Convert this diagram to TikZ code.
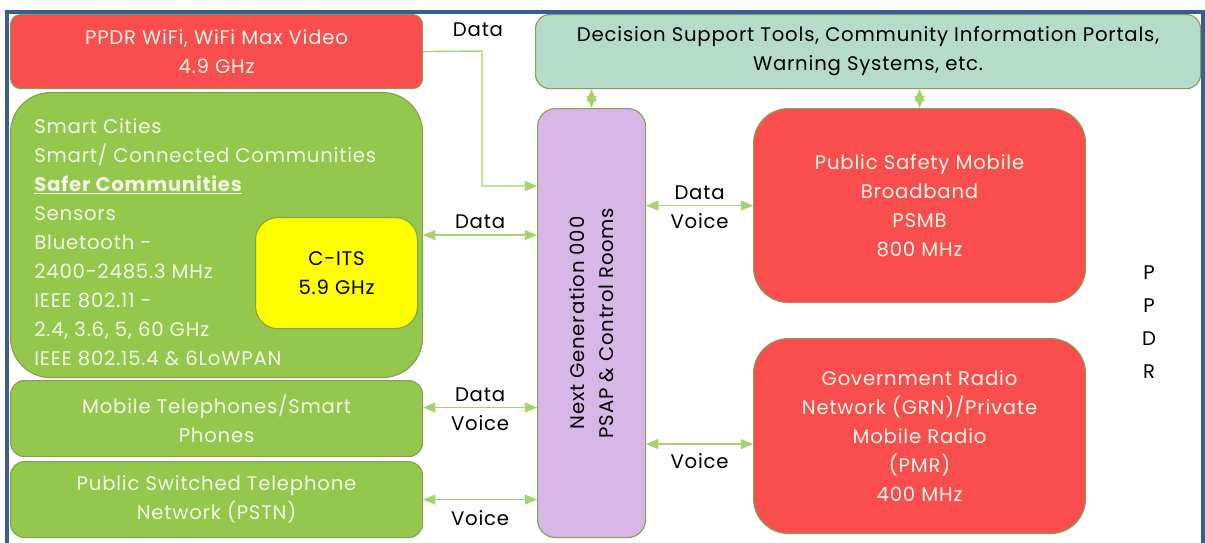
\documentclass[tikz,border=0pt]{standalone}
\usepackage{fontspec}
\setmainfont[LetterSpace=4]{Poppins}
\usepackage{tikz}
\usetikzlibrary{calc,arrows,positioning}

\definecolor{boxred}{HTML}{FA4D4D}
\definecolor{boxgreen}{HTML}{93C84C}
\definecolor{boxteal}{HTML}{B5DCC8}
\definecolor{boxlilac}{HTML}{D9B6E8}
\definecolor{boxyellow}{HTML}{FFFF00}
\definecolor{boxtext}{HTML}{F6F6E8}
\definecolor{edgegreen}{HTML}{86A04E}
\definecolor{linkgreen}{HTML}{A8D170}
\definecolor{framecol}{HTML}{3A5F8E}

\newdimen\unitpx \unitpx=0.025cm

\begin{document}
\begin{tikzpicture}[x=0.025cm, y=-0.025cm, font=\fontsize{14}{20.6}\selectfont,
  box/.style={draw=edgegreen, line width=0.8pt, anchor=north west, inner sep=0pt, align=center, text=boxtext},
  link/.style={color=linkgreen, line width=1pt},
  tag/.style={text=black, inner sep=1pt}]

\useasboundingbox (0,0) rectangle (1205,542);
\clip (0,0) rectangle (1205,542);
\draw[framecol, line width=3pt] (7,600) -- (7,12) -- (1203,12) -- (1203,600);

\node[box, fill=boxred, rounded corners=10\unitpx, minimum width=412\unitpx, minimum height=74\unitpx] (wifi) at (10,14) {PPDR WiFi, WiFi Max Video\\4.9 GHz};
\node[box, fill=boxteal, text=black, rounded corners=14\unitpx, minimum width=665\unitpx, minimum height=74\unitpx] (dst) at (535,14) {Decision Support Tools, Community Information Portals,\\Warning Systems, etc.};
\node[box, fill=boxgreen, rounded corners=40\unitpx, minimum width=412\unitpx, minimum height=285\unitpx] (smart) at (10,92) {};
\node[anchor=north west, inner sep=0pt, align=left, text=boxtext] (smarttext) at (34,118) {Smart Cities\\Smart/ Connected Communities\\\textbf{\underline{Safer Communities}}\\Sensors\\Bluetooth -\\2400-2485.3 MHz\\IEEE 802.11 -\\2.4, 3.6, 5, 60 GHz\\IEEE 802.15.4 \& 6LoWPAN};
\node[box, fill=boxyellow, text=black, rounded corners=22\unitpx, minimum width=162\unitpx, minimum height=111\unitpx] (cits) at (255,217) {C-ITS\\5.9 GHz};
\node[box, fill=boxgreen, rounded corners=14\unitpx, minimum width=412\unitpx, minimum height=76\unitpx] (mobile) at (10,380) {Mobile Telephones/Smart\\Phones};
\node[box, fill=boxgreen, rounded corners=14\unitpx, minimum width=412\unitpx, minimum height=76\unitpx] (pstn) at (10,461) {Public Switched Telephone\\Network (PSTN)};
\node[box, fill=boxlilac, rounded corners=18\unitpx, minimum width=108\unitpx, minimum height=429\unitpx] (ng) at (537,108) {};
\node[rotate=90, align=center, inner sep=0pt] (ngtext) at (ng.center) {Next Generation 000\\PSAP \& Control Rooms};
\node[box, fill=boxred, rounded corners=35\unitpx, minimum width=332\unitpx, minimum height=194\unitpx] (psmb) at (753,108) {Public Safety Mobile\\Broadband\\PSMB\\800 MHz};
\node[box, fill=boxred, rounded corners=35\unitpx, minimum width=332\unitpx, minimum height=195\unitpx] (grn) at (753,338) {Government Radio\\Network (GRN)/Private\\Mobile Radio\\(PMR)\\400 MHz};
\node[align=center, inner sep=0pt, font=\fontsize{14}{23.4}\selectfont] (ppdr) at (1149,322) {P\\P\\D\\R};

\coordinate (wifiturn) at (482,51);
\coordinate (ngin) at ([yshift=-78\unitpx]ng.north west);
\coordinate (mobout) at ([yshift=11\unitpx]mobile.east);
\coordinate (grnin) at ([yshift=-8\unitpx]grn.west);

\node[tag] (wifidata) at (478,30) {Data};

\draw [link, -{triangle 45}] (wifi.east) -- (wifiturn) |- (ngin);
\path [link, {triangle 45}-{triangle 45}]
  (dst.south -| ng.north) edge (ng.north)
  (dst.south -| psmb.north) edge (psmb.north)
  (smart.east) edge node[tag, above=3pt] {Data} (smart.east -| ng.west)
  (ng.east |- psmb.west) edge node[tag, above=3pt] {Data} node[tag, below=4pt] {Voice} (psmb.west)
  (mobout) edge node[tag, above=3pt] {Data} node[tag, below=4pt] {Voice} (mobout -| ng.west)
  (pstn.east) edge node[tag, below=6pt] {Voice} (pstn.east -| ng.west)
  (ng.east |- grnin) edge node[tag, below=5pt] {Voice} (grnin)
;
\end{tikzpicture}
\end{document}
